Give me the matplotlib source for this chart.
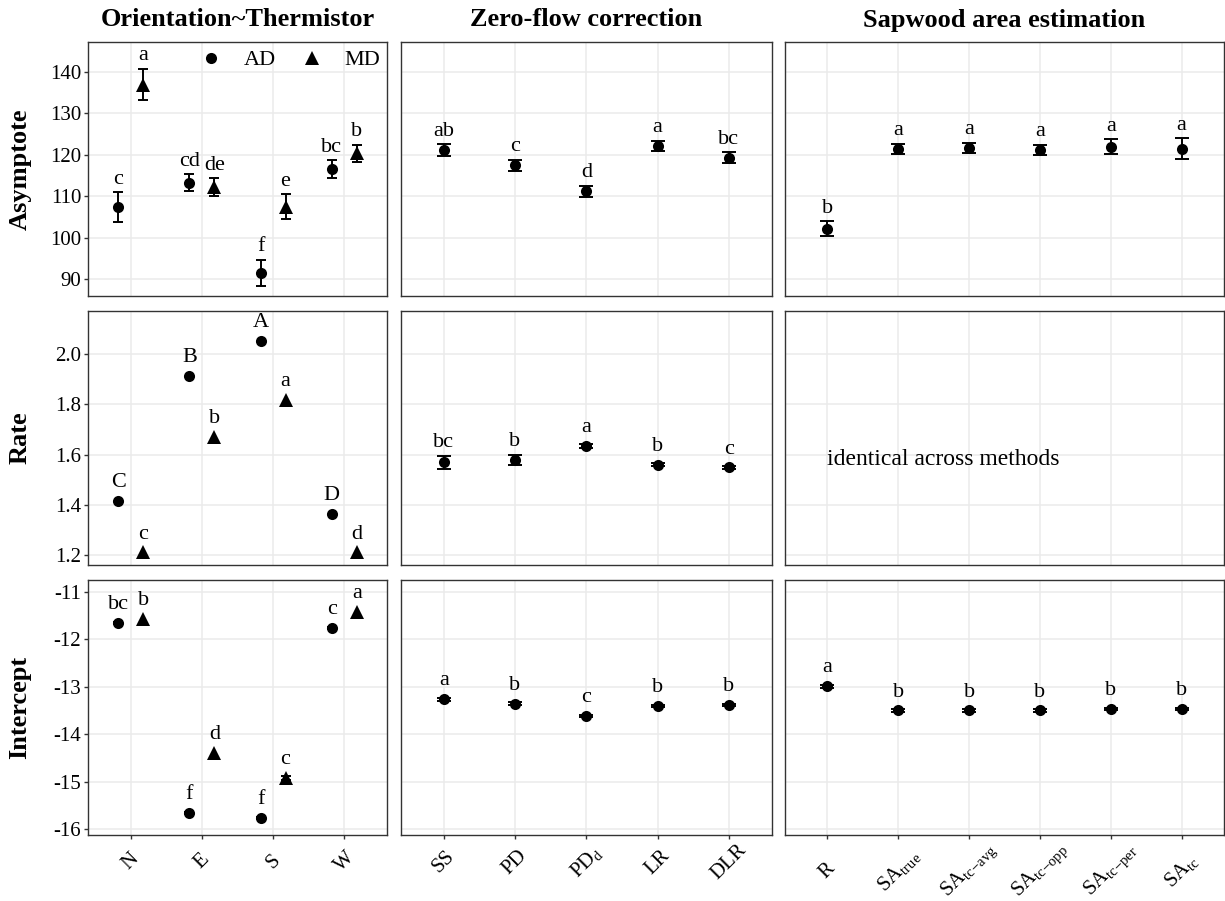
import numpy as np
import matplotlib
matplotlib.use("Agg")
import matplotlib.pyplot as plt

plt.rcParams["font.family"] = ["Liberation Serif", "DejaVu Serif"]
plt.rcParams["mathtext.fontset"] = "custom"
plt.rcParams["mathtext.rm"] = "Liberation Serif"
plt.rcParams["mathtext.it"] = "Liberation Serif:italic"
plt.rcParams["mathtext.bf"] = "Liberation Serif:bold"

# ---- data ----
orient = ["N", "E", "S", "W"]

asym_ad = [107.4, 113.3, 91.6, 116.6]
asym_ad_se = [3.6, 2.1, 3.1, 2.1]
asym_ad_let = ["c", "cd", "f", "bc"]
asym_md = [136.9, 112.2, 107.5, 120.3]
asym_md_se = [3.8, 2.1, 3.0, 2.1]
asym_md_let = ["a", "de", "e", "b"]

rate_ad = [1.415, 1.913, 2.052, 1.362]
rate_ad_se = [0, 0, 0, 0]
rate_ad_let = ["C", "B", "A", "D"]
rate_md = [1.21, 1.67, 1.818, 1.21]
rate_md_se = [0, 0, 0, 0]
rate_md_let = ["c", "b", "a", "d"]

int_ad = [-11.655, -15.665, -15.755, -11.76]
int_ad_se = [0.02, 0.02, 0.02, 0.02]
int_ad_let = ["bc", "f", "f", "c"]
int_md = [-11.57, -14.40, -14.92, -11.43]
int_md_se = [0, 0, 0.05, 0]
int_md_let = ["b", "d", "c", "a"]

zf_methods = ["SS", "PD", r"PD$_\mathregular{d}$", "LR", "DLR"]
zf_asym = [121.1, 117.5, 111.2, 122.1, 119.3]
zf_asym_se = [1.4, 1.35, 1.3, 1.2, 1.3]
zf_asym_let = ["ab", "c", "d", "a", "bc"]
zf_rate = [1.569, 1.579, 1.636, 1.559, 1.549]
zf_rate_se = [0.027, 0.02, 0.008, 0.006, 0.006]
zf_rate_let = ["bc", "b", "a", "b", "c"]
zf_int = [-13.266, -13.36, -13.615, -13.405, -13.385]
zf_int_se = [0.03, 0.03, 0.03, 0.03, 0.03]
zf_int_let = ["a", "b", "c", "b", "b"]

sa_methods = ["R", r"SA$_\mathregular{true}$", r"SA$_\mathregular{tc{-}avg}$",
              r"SA$_\mathregular{tc{-}opp}$", r"SA$_\mathregular{tc{-}per}$",
              r"SA$_\mathregular{tc}$"]
sa_asym = [102.2, 121.3, 121.6, 121.1, 121.9, 121.5]
sa_asym_se = [1.8, 1.2, 1.2, 1.2, 1.8, 2.5]
sa_asym_let = ["b", "a", "a", "a", "a", "a"]
sa_int = [-12.99, -13.5, -13.5, -13.5, -13.47, -13.47]
sa_int_se = [0.03, 0.03, 0.03, 0.03, 0.03, 0.03]
sa_int_let = ["a", "b", "b", "b", "b", "b"]

col_titles = ["Orientation~Thermistor", "Zero-flow correction", "Sapwood area estimation"]
row_titles = ["Asymptote", "Rate", "Intercept"]
row_ylims = [(85.98, 147.15), (1.160, 2.1726), (-16.12, -10.754)]
row_ticks = [[90, 100, 110, 120, 130, 140],
             [1.2, 1.4, 1.6, 1.8, 2.0],
             [-16, -15, -14, -13, -12, -11]]
row_ticklabels = [["90", "100", "110", "120", "130", "140"],
                  ["1.2", "1.4", "1.6", "1.8", "2.0"],
                  ["-16", "-15", "-14", "-13", "-12", "-11"]]

# ---- layout ----
W, H = 1225, 901
fig = plt.figure(figsize=(W / 100, H / 100), dpi=100)
col_px = [(88, 387), (401, 771.5), (785, 1224)]
row_px = [(42, 296), (311, 565), (580, 835)]
col_cats = [orient, zf_methods, sa_methods]
xpad = [16, 16.5, 22.5]

GAP = 6.0      # pt between bar top and letter
RADIUS = 4.0   # pt, half marker height


def draw(ax, x, y, se, letters, marker, ms, cap):
    x = np.asarray(x, float)
    y = np.asarray(y, float)
    se = np.asarray(se, float)
    m = se > 0
    if m.any():
        ax.errorbar(x[m], y[m], yerr=se[m], fmt="none", ecolor="black",
                     elinewidth=1.4, capsize=cap, capthick=1.4, zorder=3)
    ln, = ax.plot(x, y, linestyle="none", marker=marker, ms=ms, color="black",
                  markeredgewidth=0, zorder=4)
    pos = ax.get_position()
    ylo, yhi = ax.get_ylim()
    pt_per_unit = pos.height * fig.get_figheight() * 72 / (yhi - ylo)
    for xi, yi, si, lab in zip(x, y, se, letters):
        off = GAP + max(0.0, RADIUS - si * pt_per_unit)
        ax.annotate(lab, xy=(xi, yi + si), xytext=(0, off),
                    textcoords="offset points", ha="center", va="baseline",
                    fontsize=16, zorder=5)
    return ln


axes = {}
for r, (y0, y1) in enumerate(row_px):
    for c, (x0, x1) in enumerate(col_px):
        ax = fig.add_axes([x0 / W, 1 - y1 / H, (x1 - x0) / W, (y1 - y0) / H])
        n = len(col_cats[c])
        ax.set_xlim(0.4, n + 0.6)
        ax.set_ylim(*row_ylims[r])
        ax.set_xticks(np.arange(1, n + 1))
        ax.set_yticks(row_ticks[r])
        ax.grid(True, color="#EBEBEB", linewidth=1.1)
        ax.set_axisbelow(True)
        for s in ax.spines.values():
            s.set_color("#333333")
            s.set_linewidth(1.0)
        ax.tick_params(colors="#333333", length=3, width=1.0)
        if c == 0:
            ax.set_yticklabels(row_ticklabels[r], fontsize=15, color="black")
            ax.tick_params(axis="y", pad=2)
        else:
            ax.tick_params(axis="y", length=0, labelleft=False)
        if r == 2:
            ax.set_xticklabels(col_cats[c], fontsize=15, rotation=45,
                               ha="center", va="center", color="black")
            ax.tick_params(axis="x", pad=xpad[c])
        else:
            ax.tick_params(axis="x", length=0, labelbottom=False)
        axes[(r, c)] = ax

xo = np.arange(1, 5)
d = 0.175
h_ad = draw(axes[(0, 0)], xo - d, asym_ad, asym_ad_se, asym_ad_let, "o", 8, 3.6)
h_md = draw(axes[(0, 0)], xo + d, asym_md, asym_md_se, asym_md_let, "^", 9.5, 3.6)
draw(axes[(1, 0)], xo - d, rate_ad, rate_ad_se, rate_ad_let, "o", 8, 3.6)
draw(axes[(1, 0)], xo + d, rate_md, rate_md_se, rate_md_let, "^", 9.5, 3.6)
draw(axes[(2, 0)], xo - d, int_ad, int_ad_se, int_ad_let, "o", 8, 3.6)
draw(axes[(2, 0)], xo + d, int_md, int_md_se, int_md_let, "^", 9.5, 3.6)

xz = np.arange(1, 6)
draw(axes[(0, 1)], xz, zf_asym, zf_asym_se, zf_asym_let, "o", 8, 4.8)
draw(axes[(1, 1)], xz, zf_rate, zf_rate_se, zf_rate_let, "o", 8, 4.8)
draw(axes[(2, 1)], xz, zf_int, zf_int_se, zf_int_let, "o", 8, 4.8)

xs = np.arange(1, 7)
draw(axes[(0, 2)], xs, sa_asym, sa_asym_se, sa_asym_let, "o", 8, 4.8)
draw(axes[(2, 2)], xs, sa_int, sa_int_se, sa_int_let, "o", 8, 4.8)
axes[(1, 2)].text(1, 1.58, "identical across methods", ha="left", va="center",
                  fontsize=17)

fig.legend([h_ad, h_md], ["AD", "MD"], loc="center",
           bbox_to_anchor=(290 / W, 1 - 60 / H), ncol=2, frameon=False,
           fontsize=16, handlelength=1.0, handletextpad=1.0,
           columnspacing=1.1, borderpad=0)

for c, (x0, x1) in enumerate(col_px):
    fig.text((x0 + x1) / 2 / W, 1 - 20 / H, col_titles[c], ha="center",
             va="center", fontsize=19, fontweight="bold")
for r, (y0, y1) in enumerate(row_px):
    fig.text(20 / W, 1 - (y0 + y1) / 2 / H, row_titles[r], ha="center",
             va="center", rotation=90, fontsize=19, fontweight="bold")

fig.savefig("out.png", dpi=100)
